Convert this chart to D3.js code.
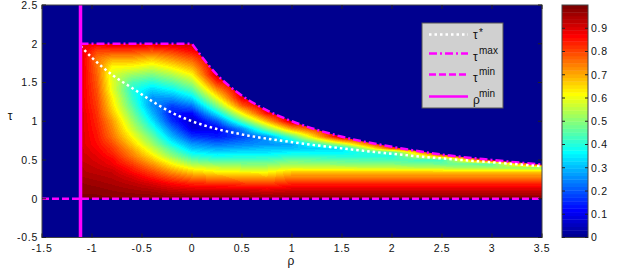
<!DOCTYPE html>
<html>
<head>
<meta charset="utf-8">
<script src="https://cdn.jsdelivr.net/npm/d3@7"></script>
<style>
body { margin: 0; background: #fff; }
text { font-family: "Liberation Sans", Arial, sans-serif; fill: #111; }
.tick { font-size: 10.5px; letter-spacing: 0.7px; }
</style>
</head>
<body>
<svg id="chart" width="623" height="271"></svg>
<script>
var rhoGrid = [-1.1, -0.95, -0.8, -0.6, -0.4, -0.2, 0, 0.25, 0.5, 0.75, 1, 1.5, 2, 2.5, 3, 3.5];
var tauGrid = [0, 0.1, 0.2, 0.3, 0.35, 0.4, 0.45, 0.5, 0.55, 0.6, 0.65, 0.7, 0.8, 0.9, 1.0,
               1.1, 1.2, 1.3, 1.4, 1.5, 1.6, 1.7, 1.8, 1.9, 2.0];

// one column per rho, values from tau = 0 upwards
var valueCols = [
  [.99,.98,.97,.95,.94,.94,.93,.92,.92,.91,.91,.90,.90,.90,.90,.90,.89,.89,.89,.89,.89,.89,.89,.89,.89],
  [.99,.98,.96,.94,.93,.92,.91,.90,.89,.88,.87,.86,.85,.84,.83,.82,.81,.80,.79,.78,.77,.76,.75,.80,.88],
  [.99,.97,.95,.93,.92,.90,.88,.87,.85,.83,.82,.80,.76,.74,.72,.68,.65,.63,.60,.59,.58,.62,.70,.80,.90],
  [.99,.96,.93,.89,.86,.84,.81,.78,.75,.73,.70,.67,.62,.57,.53,.49,.45,.42,.40,.44,.52,.61,.70,.80,.90],
  [.99,.95,.90,.83,.80,.76,.72,.68,.64,.60,.57,.53,.47,.41,.35,.30,.26,.26,.32,.40,.49,.58,.67,.78,.90],
  [.99,.93,.86,.77,.72,.67,.62,.57,.51,.47,.43,.38,.30,.23,.16,.13,.18,.27,.36,.45,.54,.63,.72,.81,.91],
  [.99,.92,.83,.72,.66,.60,.53,.47,.41,.36,.31,.27,.17,.09,.06,.12,.23,.34,.44,.53,.62,.70,.78,.86,.92],
  [.99,.92,.82,.69,.62,.57,.50,.43,.38,.33,.28,.23,.14,.10,.20,.35,.49,.61,.72,.83,.92,.92,.92,.92,.92],
  [.99,.92,.81,.68,.61,.55,.49,.43,.39,.34,.29,.25,.18,.25,.45,.62,.78,.89,.92,.92,.92,.92,.92,.92,.92],
  [.99,.91,.80,.67,.61,.55,.49,.44,.39,.34,.31,.26,.26,.49,.69,.86,.92,.92,.92,.92,.92,.92,.92,.92,.92],
  [.99,.92,.83,.72,.66,.58,.52,.47,.41,.36,.31,.28,.45,.71,.92,.92,.92,.92,.92,.92,.92,.92,.92,.92,.92],
  [.99,.92,.83,.72,.66,.57,.50,.45,.40,.36,.34,.54,.92,.92,.92,.92,.92,.92,.92,.92,.92,.92,.92,.92,.92],
  [.99,.92,.83,.72,.66,.56,.49,.44,.39,.45,.80,.92,.92,.92,.92,.92,.92,.92,.92,.92,.92,.92,.92,.92,.92],
  [.99,.92,.83,.72,.66,.54,.47,.42,.72,.92,.92,.92,.92,.92,.92,.92,.92,.92,.92,.92,.92,.92,.92,.92,.92],
  [.99,.92,.83,.72,.66,.52,.45,.90,.92,.92,.92,.92,.92,.92,.92,.92,.92,.92,.92,.92,.92,.92,.92,.92,.92],
  [.99,.92,.83,.72,.66,.50,.90,.92,.92,.92,.92,.92,.92,.92,.92,.92,.92,.92,.92,.92,.92,.92,.92,.92,.92]
];

var rhoMin = -1.115;
var tauMin = 0;

// upper bound tau max
var tauMaxRho = [-1.115, 0, 0.25, 0.5, 0.75, 1, 1.5, 2, 2.5, 3, 3.5];
var tauMaxVal = [2, 2, 1.6, 1.33, 1.14, 1.0, 0.8, 0.67, 0.57, 0.5, 0.44];

// optimum tau*
var tauStarRho = [-1.115, -1, -0.8, -0.6, -0.4, -0.2, 0, 0.25, 0.5, 1, 1.5, 2, 2.5, 3, 3.5];
var tauStarVal = [1.97, 1.82, 1.6, 1.43, 1.26, 1.11, 1.0, 0.9, 0.83, 0.73, 0.65, 0.58, 0.52, 0.47, 0.42];

var xTicks = [-1.5, -1, -0.5, 0, 0.5, 1, 1.5, 2, 2.5, 3, 3.5];
var yTicks = [-0.5, 0, 0.5, 1, 1.5, 2, 2.5];
var cbTicks = [0, 0.1, 0.2, 0.3, 0.4, 0.5, 0.6, 0.7, 0.8, 0.9];

var svg = d3.select("#chart");
var x = d3.scaleLinear().domain([-1.5, 3.5]).range([42, 542]);
var y = d3.scaleLinear().domain([-0.5, 2.5]).range([237.5, 5]);

// matlab jet with 64 entries
function jetU(j) {
  if (j < 1 || j > 47) return 0;
  if (j <= 16) return j / 16;
  if (j <= 31) return 1;
  return (48 - j) / 16;
}
var jet = d3.range(64).map(function(k) {
  var kk = k + 1;
  return d3.rgb(255 * jetU(kk - 24), 255 * jetU(kk - 8), 255 * jetU(kk + 8));
});
function colorIndex(v) {
  return Math.max(0, Math.min(63, Math.floor(v * 64)));
}

function valueAt(r, t) {
  var i = Math.max(0, Math.min(rhoGrid.length - 2, d3.bisectRight(rhoGrid, r) - 1));
  var j = Math.max(0, Math.min(tauGrid.length - 2, d3.bisectRight(tauGrid, t) - 1));
  var a = Math.max(0, Math.min(1, (r - rhoGrid[i]) / (rhoGrid[i + 1] - rhoGrid[i])));
  var b = Math.max(0, Math.min(1, (t - tauGrid[j]) / (tauGrid[j + 1] - tauGrid[j])));
  var v00 = valueCols[i][j], v01 = valueCols[i][j + 1];
  var v10 = valueCols[i + 1][j], v11 = valueCols[i + 1][j + 1];
  return (1 - a) * ((1 - b) * v00 + b * v01) + a * ((1 - b) * v10 + b * v11);
}

var x0 = x.range()[0], x1 = x.range()[1], yTop = y.range()[1], yBot = y.range()[0];
var W = Math.round(x1 - x0), H = Math.round(yBot - yTop);

// background value 0
svg.append("rect")
  .attr("x", x0).attr("y", yTop).attr("width", x1 - x0).attr("height", yBot - yTop)
  .attr("fill", jet[0]);

// heat map painted on a canvas, then clipped to the feasible region
var canvas = document.createElement("canvas");
canvas.width = W; canvas.height = H;
var ctx = canvas.getContext("2d");
var img = ctx.createImageData(W, H);
for (var py = 0; py < H; py++) {
  var t = y.invert(yTop + py + 0.5);
  for (var px = 0; px < W; px++) {
    var r = x.invert(x0 + px + 0.5);
    var c = jet[colorIndex(valueAt(r, t))];
    var o = (py * W + px) * 4;
    img.data[o] = c.r; img.data[o + 1] = c.g; img.data[o + 2] = c.b; img.data[o + 3] = 255;
  }
}
ctx.putImageData(img, 0, 0);

var maxPts = tauMaxRho.map(function(r, i) { return [r, tauMaxVal[i]]; });
var flatPts = maxPts.filter(function(d) { return d[0] <= 0; });
var curvePts = maxPts.filter(function(d) { return d[0] >= 0; });
var curveLine = d3.line().x(function(d) { return x(d[0]); }).y(function(d) { return y(d[1]); })
  .curve(d3.curveMonotoneX);
var straightLine = d3.line().x(function(d) { return x(d[0]); }).y(function(d) { return y(d[1]); });
var maxPath = straightLine(flatPts) + "L" + curveLine(curvePts).slice(1);

var regionPath = "M" + x(rhoMin) + "," + y(tauMin) + "L" + maxPath.slice(1) +
  "L" + x(3.5) + "," + y(tauMin) + "Z";

svg.append("clipPath").attr("id", "region").append("path").attr("d", regionPath);
svg.append("image")
  .attr("x", x0).attr("y", yTop).attr("width", W).attr("height", H)
  .attr("preserveAspectRatio", "none")
  .attr("href", canvas.toDataURL())
  .attr("clip-path", "url(#region)");

// boundary lines
svg.append("line")
  .attr("x1", x0).attr("x2", x1).attr("y1", y(tauMin)).attr("y2", y(tauMin))
  .attr("stroke", "#ff00ff").attr("stroke-width", 2.5).attr("stroke-dasharray", "7,3");

svg.append("path")
  .attr("d", maxPath).attr("fill", "none")
  .attr("stroke", "#ff00ff").attr("stroke-width", 2.5).attr("stroke-dasharray", "8,3,2,3");

svg.append("path")
  .datum(tauStarRho.map(function(r, i) { return [r, tauStarVal[i]]; }))
  .attr("d", curveLine).attr("fill", "none")
  .attr("stroke", "#fff").attr("stroke-width", 2.5).attr("stroke-dasharray", "2.5,3");

svg.append("line")
  .attr("x1", x(rhoMin)).attr("x2", x(rhoMin)).attr("y1", yTop).attr("y2", yBot)
  .attr("stroke", "#ff00ff").attr("stroke-width", 3.5);

// axes box and inward ticks
svg.append("rect")
  .attr("x", x0).attr("y", yTop).attr("width", x1 - x0).attr("height", yBot - yTop)
  .attr("fill", "none").attr("stroke", "#444").attr("stroke-width", 1);

var ax = svg.append("g");
xTicks.forEach(function(v) {
  ax.append("line").attr("x1", x(v)).attr("x2", x(v)).attr("y1", yBot).attr("y2", yBot - 4).attr("stroke", "#222");
  ax.append("line").attr("x1", x(v)).attr("x2", x(v)).attr("y1", yTop).attr("y2", yTop + 4).attr("stroke", "#222");
  ax.append("text").attr("class", "tick").attr("x", x(v)).attr("y", 251.5)
    .attr("text-anchor", "middle").text(v);
});
yTicks.forEach(function(v) {
  ax.append("line").attr("x1", x0).attr("x2", x0 + 4).attr("y1", y(v)).attr("y2", y(v)).attr("stroke", "#222");
  ax.append("line").attr("x1", x1).attr("x2", x1 - 4).attr("y1", y(v)).attr("y2", y(v)).attr("stroke", "#222");
  ax.append("text").attr("class", "tick").attr("x", 38).attr("y", y(v) + 3.8)
    .attr("text-anchor", "end").text(v);
});

svg.append("text").attr("x", 291).attr("y", 265).attr("text-anchor", "middle")
  .attr("font-size", 12).text("ρ");
svg.append("text").attr("x", 10).attr("y", 120).attr("text-anchor", "middle")
  .attr("font-size", 12).text("τ");

// colour bar
var cb = d3.scaleLinear().domain([0, 1]).range([237.5, 5]);
var cbX = 562, cbW = 26;
svg.append("g").selectAll("rect").data(jet).join("rect")
  .attr("x", cbX).attr("width", cbW)
  .attr("y", function(d, k) { return cb((k + 1) / 64); })
  .attr("height", function(d, k) { return cb(k / 64) - cb((k + 1) / 64) + 0.4; })
  .attr("fill", function(d) { return d; });
svg.append("rect").attr("x", cbX).attr("y", cb(1)).attr("width", cbW).attr("height", cb(0) - cb(1))
  .attr("fill", "none").attr("stroke", "#444");
cbTicks.forEach(function(v) {
  svg.append("line").attr("x1", cbX).attr("x2", cbX + 3).attr("y1", cb(v)).attr("y2", cb(v)).attr("stroke", "#222");
  svg.append("line").attr("x1", cbX + cbW).attr("x2", cbX + cbW - 3).attr("y1", cb(v)).attr("y2", cb(v)).attr("stroke", "#222");
  svg.append("text").attr("class", "tick").attr("x", cbX + cbW + 3).attr("y", cb(v) + 3.8).text(v);
});

// legend
var lg = svg.append("g");
lg.append("rect").attr("x", 422).attr("y", 23).attr("width", 81).attr("height", 85)
  .attr("fill", "#d0d0d0").attr("stroke", "#555");
var legendItems = [
  { y: 34.5, stroke: "#fff", dash: "2.5,3", sym: "τ", sup: "*" },
  { y: 53.5, stroke: "#ff00ff", dash: "8,3,2,3", sym: "τ", sup: "max" },
  { y: 74.5, stroke: "#ff00ff", dash: "7,3", sym: "τ", sup: "min" },
  { y: 96.5, stroke: "#ff00ff", dash: null, sym: "ρ", sup: "min" }
];
legendItems.forEach(function(d, i) {
  lg.append("line").attr("x1", 429).attr("x2", 468).attr("y1", d.y).attr("y2", d.y)
    .attr("stroke", d.stroke).attr("stroke-width", 2.5)
    .attr("stroke-dasharray", d.dash);
  var base = i === 0 ? d.y + 4.5 : d.y + 7;
  lg.append("text").attr("x", 473).attr("y", base).attr("font-size", 12).text(d.sym);
  lg.append("text").attr("x", 479).attr("y", i === 0 ? d.y + 1.5 : d.y + 0.5)
    .attr("font-size", 10).text(d.sup);
});
</script>
</body>
</html>
